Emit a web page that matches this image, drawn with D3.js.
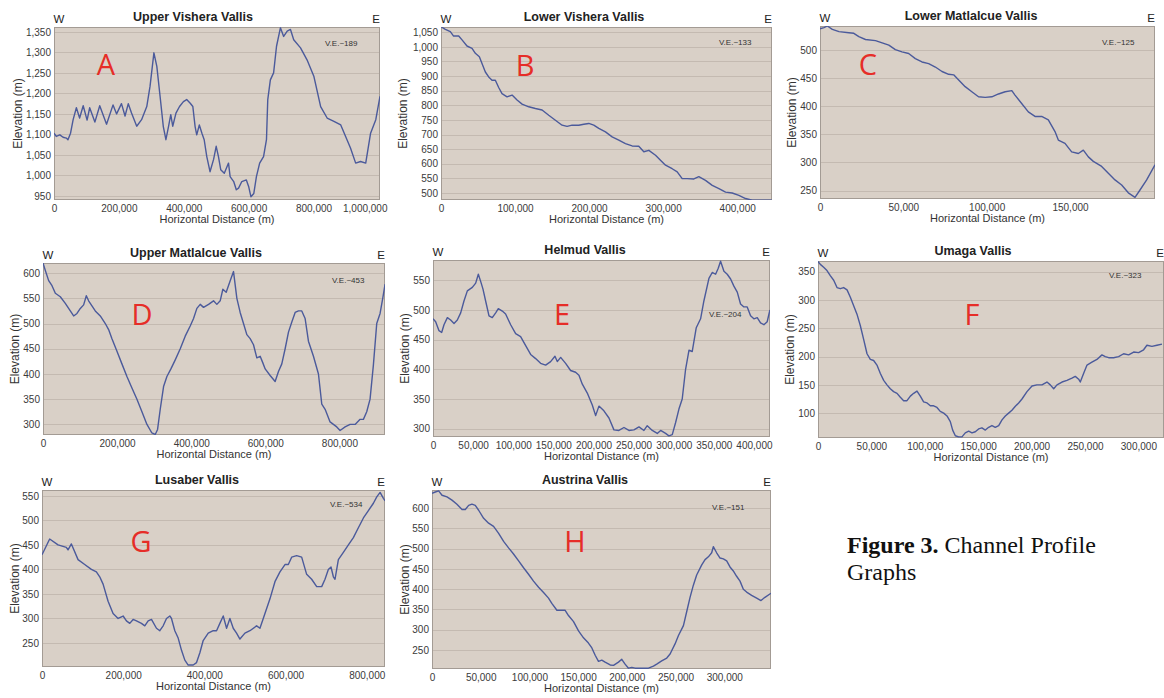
<!DOCTYPE html>
<html>
<head>
<meta charset="utf-8">
<script src="https://cdn.jsdelivr.net/npm/d3@7"></script>
<style>
    body { margin: 0; background: #fff; }
    svg { display: block; }
    .tick text { font-family: "Liberation Sans", Arial, sans-serif; font-size: 10px; fill: #3a3a3a; }
    .axis path { display: none; }
    .panel-title { font-family: "Liberation Sans", Arial, sans-serif; font-size: 12.5px; font-weight: bold; fill: #222; }
    .we { font-family: "Liberation Sans", Arial, sans-serif; font-size: 11.5px; fill: #222; }
    .x-title { font-family: "Liberation Sans", Arial, sans-serif; font-size: 11px; fill: #333; }
    .y-title { font-family: "Liberation Sans", Arial, sans-serif; font-size: 12px; fill: #333; }
    .ve { font-family: "Liberation Sans", Arial, sans-serif; font-size: 8px; fill: #333; }
    .letter { font-family: "Open Sans", sans-serif; font-size: 29px; fill: #e62d28; }
    .caption { font-family: "Liberation Serif", "Times New Roman", serif; font-size: 24px; fill: #111; }
</style>
</head>
<body>
<svg id="fig" width="1164" height="698"></svg>
<script>
// profile data: distance in km along the channel, elevation in m

const aDist = [0,7,18,28,38,43,51,59,69,79,90,102,110,126,141,162,182,193,208,219,229,239,255,270,286,296,308,317,327,337,345,353,360,366,376,387,399,409,420,428,435,440,448,456,463,471,481,492,500,507,514,525,538,543,554,562,569,579,593,600,607,616,624,634,646,655,659,667,677,686,698,708,719,729,739,760,780,801,822,842,863,884,899,914,930,945,961,976,992,1005];
const aElev = [1103,1095,1099,1093,1091,1087,1103,1136,1165,1140,1170,1135,1165,1130,1170,1125,1172,1150,1175,1145,1175,1152,1120,1136,1168,1217,1299,1266,1193,1119,1087,1119,1148,1120,1152,1168,1180,1185,1176,1168,1119,1099,1123,1103,1087,1046,1009,1039,1071,1046,1014,1005,1030,997,985,965,969,985,989,973,948,956,997,1030,1046,1087,1185,1233,1250,1315,1360,1339,1352,1356,1331,1311,1282,1242,1168,1140,1132,1123,1095,1067,1030,1034,1030,1103,1136,1193];

const bDist = [0,5.9,12.6,17,23.9,28.4,35.1,41.9,46.4,51.8,56.3,59.9,64.4,68.9,73.4,77.9,82.4,89.2,96,102.7,109.5,118.5,127.5,136.5,145.5,154.5,163.5,170.3,177,186,192.8,199.6,206.3,213.1,222.1,231.1,240.1,249.1,258.1,267.1,273.9,280.7,289.7,296.4,303.2,312.2,319,325.7,332.5,341.5,348.2,357.2,366.3,375.3,384.3,393.3,402.3,411.3,420.3,433.8,447.3];
const bElev = [1069,1060,1052,1037,1037,1024,1003,995,978,966,937,914,897,886,886,861,840,829,835,818,804,795,789,784,766,749,732,728,732,732,735,738,732,721,709,692,681,669,661,660,641,646,629,612,595,583,572,549,549,548,556,543,526,515,503,500,492,481,475,475,475];

const cDist = [0,2.4,4.4,7.4,11.4,17.3,20.3,23.3,27.3,33.3,37.3,41.3,45.2,49.2,53.2,57.2,61.2,65.2,69.2,73.2,77.2,80.2,83.2,87.1,91.1,95.1,99.1,103.1,107.1,111.1,115.1,117,121,125,129,133,137,141,143,147,151,155,158,161,164,169,173,177,181,185,189,192,196,201];
const cElev = [538,540,543,537,533,531,530,524,519,517,513,509,501,497,494,485,479,476,470,462,457,456,447,435,426,417,416,417,422,426,428,420,405,390,382,382,376,355,340,334,319,316,322,310,302,293,281,269,260,246,238,251,269,296];

const dDist = [0,6.3,15.3,24.3,33.3,46.7,60.2,73.7,82.7,91.7,100.7,109.7,116.9,123.1,132.1,141.1,154.6,168.1,177.1,186.1,199.6,213,226.5,240,253.5,267,280.5,293.9,302.9,309.2,316.4,325.4,334.4,345.2,356.9,370.4,383.8,397.3,406.3,415.3,424.3,433.3,446.8,460.2,469.2,478.2,485.4,494.4,505.2,514.2,523.2,532.1,541.1,550.1,559.1,568.1,577.1,586.1,593.3,599.6,613,626.5,635.5,644.5,653.5,662.5,671.5,680.5,689.5,698.4,707.4,716.4,729.9,743.4,752.4,761.4,774.8,783.8,792.8,801.8,815.3,828.8,842.3,855.8,864.7,873.7,882.7,891.7,900.7,909.7,916.9,923.2];
const dElev = [620,605,585,575,560,553,540,525,515,520,530,537,555,545,535,525,515,500,488,470,445,420,395,372,350,325,300,283,280,290,330,375,395,410,428,450,475,495,510,530,538,532,538,545,538,545,568,562,585,603,550,522,500,478,470,458,432,435,422,410,397,385,405,420,450,483,503,522,525,525,510,465,435,400,340,330,305,300,295,288,295,300,300,310,310,325,350,418,500,520,550,578];

const eDist = [0,3.3,7.5,10.8,13.7,17.9,22,26.2,30.3,34.5,38.6,42.8,49,53.2,56.5,59.4,62.3,65.6,69.8,73.9,78.1,81.4,86.4,90.5,96.8,103,109.2,115.5,121.7,127.9,134.1,140.4,146.6,152,154.9,159.1,165.3,171.5,177.7,181.9,186.1,192.3,198.5,202.7,206.8,213,219.3,225.5,231.7,238,244.2,250.4,256.7,262.9,267,273.3,279.5,283.7,289.9,294,298.2,302.3,306.5,310.6,314.8,319,323.1,328.1,333.5,337.6,343.9,348,352.2,355.5,358.4,362.6,366.7,370.9,375,379.2,383.3,387.5,391.6,395.8,399.9,404.1,408.2,412.4,416.5,419.9];
const eElev = [485,480,465,462,475,487,483,477,483,495,515,532,538,545,560,548,535,515,490,487,495,502,498,493,475,460,455,440,425,418,410,407,413,422,413,420,410,398,395,390,375,360,340,322,338,330,318,298,297,302,297,298,303,297,305,297,292,297,292,288,290,310,333,350,400,432,430,470,485,515,553,563,560,570,582,565,560,552,540,530,510,505,505,490,485,487,478,475,480,500];

const fDist = [0,2.2,5.3,8.4,11.5,14.7,17.8,20.9,24,27.2,30.3,33.4,36.5,39.6,42.8,45.9,49,52.1,55.2,58.4,61.5,64.6,67.7,70.8,74,77.1,80.2,83.3,86.5,89.6,92.7,95.8,98.9,102.1,105.2,108.3,111.4,114.5,117.7,120.8,123.9,126.1,128.6,131.7,134.8,137.9,141.1,144.2,147.3,150.4,153.5,156.7,159.8,162.9,166,169.2,172.3,175.4,178.5,181.6,184.8,187.9,191,195.7,200.4,205,209.7,214.4,217.5,220.7,223.8,228.5,233.1,237.8,240.9,244.1,245.6,248.7,251.9,256.5,261.2,265.9,269,272.2,276.8,281.5,286.2,290.9,295.6,300.2,304.9,308,312.7,317.4,322.1];
const fElev = [368,363,358,352,343,335,322,320,322,318,305,290,275,255,230,205,195,193,185,170,158,150,143,138,135,128,122,122,130,135,139,130,120,118,113,113,110,103,100,95,85,70,60,58,58,65,68,65,67,72,74,70,75,78,75,78,88,95,100,105,112,118,125,138,148,150,150,155,150,143,150,155,158,162,165,160,155,170,185,190,195,203,200,198,198,200,205,203,208,207,212,220,218,220,222];

const gDist = [0,18.9,39.5,60,64.1,72.4,88.8,105.2,121.7,134,142.2,150.5,162.8,175.1,187.5,199.8,208,216.2,224.5,232.7,245,253.2,261.5,269.7,282,290.2,298.5,306.7,314.9,319,327.2,335.5,343.7,351.9,360.1,372.5,380.7,388.9,397.1,409.5,421.8,430,438.2,446.5,454.7,462.9,471.1,479.3,487.6,499.9,512.2,528.7,536.9,545.1,561.6,573.9,586.2,598.6,606.8,615,627.3,639.7,652,664.3,676.7,689,697.2,705.4,712,717.8,721.9,730.1,742.4,754.8,767.1,779.4,791.8,804.1,816.4,824.7,832.9,841.1,845.2];
const gElev = [430,462,450,445,440,452,420,410,400,395,385,370,335,310,300,305,295,290,298,295,290,285,295,298,280,275,285,300,305,300,275,260,235,215,205,205,210,230,255,270,275,275,290,305,280,300,280,270,258,270,275,285,280,300,340,375,395,410,410,425,428,425,390,380,365,365,380,400,405,385,380,420,435,450,465,485,505,520,535,548,557,545,540];

const hDist = [0,3.4,6.8,10.3,15.4,20.5,25.6,30.8,34.2,37.6,41,44.4,47.9,53,58.1,63.2,68.4,73.5,78.6,83.7,88.9,94,99.1,104.2,109.4,114.5,119.6,123,128.2,133.3,136.7,140.1,145.3,150.4,155.5,160.6,164.1,167.5,170.9,174.3,177.7,182.9,186.3,191.4,194.8,198.2,201.7,205.1,208.5,215.3,222.2,227.3,230.7,235.8,241,244.4,249.5,252.9,258.1,261.5,264.9,268.3,271.7,276.9,280.3,283.7,287.1,288.8,292.2,295.7,299.1,302.5,305.9,309.3,312.7,316.2,319.6,323,328.1,333.3,337.7,341.8,348];
const hElev = [637,640,643,632,628,620,610,597,597,607,610,607,595,575,563,555,538,518,502,487,470,453,437,420,405,392,378,365,348,348,348,335,320,297,280,267,255,237,222,225,220,213,212,220,227,215,205,207,205,205,205,210,215,223,230,240,265,285,310,345,380,410,435,460,473,480,490,505,490,477,475,470,455,445,432,420,400,393,385,378,372,380,390];

const titles = ['Upper Vishera Vallis', 'Lower Vishera Vallis', 'Lower Matlalcue Vallis', 'Upper Matlalcue Vallis',
    'Helmud Vallis', 'Umaga Vallis', 'Lusaber Vallis', 'Austrina Vallis'];
const letters = ['A', 'B', 'C', 'D', 'E', 'F', 'G', 'H'];
const veLabels = ['V.E.~189', 'V.E.~133', 'V.E.~125', 'V.E.~453', 'V.E.~204', 'V.E.~323', 'V.E.~534', 'V.E.~151'];

// axis extents (km / m) and tick spacing
const xMax = [1005, 447, 201, 923, 420, 324, 845, 348];
const xTickStep = [200, 100, 50, 200, 50, 50, 200, 50];
const xTickLast = [1000, 400, 150, 800, 400, 300, 800, 300];
const yDomains = [[940, 1362], [476, 1068], [235, 543], [279, 620], [286, 584], [56, 369], [201, 562], [203, 645]];
const yTickRanges = [[950, 1350], [500, 1050], [250, 500], [300, 600], [300, 550], [100, 350], [250, 550], [250, 600]];

const series = [[aDist, aElev], [bDist, bElev], [cDist, cElev], [dDist, dElev],
    [eDist, eElev], [fDist, fElev], [gDist, gElev], [hDist, hElev]];

// panel placement on the page
const layout = [
    { l: 54, r: 380, t: 27, b: 200, tx: 193, yt: 18, ve: [325, 46], let: [106, 75] },
    { l: 441, r: 772, t: 27, b: 200, tx: 584, yt: 403, ve: [719, 45], let: [525, 76] },
    { l: 820, r: 1155, t: 26, b: 199, tx: 971, yt: 792, ve: [1102, 45], let: [868, 75] },
    { l: 43, r: 385, t: 263, b: 435, tx: 196, yt: 15, ve: [332, 283], let: [142, 325] },
    { l: 433, r: 770, t: 260, b: 437, tx: 585, yt: 405, ve: [709, 317], let: [562, 325] },
    { l: 818, r: 1164, t: 261, b: 438, tx: 973, yt: 790, ve: [1109, 278], let: [972, 325] },
    { l: 42, r: 385, t: 490, b: 667, tx: 197, yt: 15, ve: [330, 507], let: [141, 552] },
    { l: 432, r: 771, t: 490, b: 669, tx: 585, yt: 405, ve: [712, 510], let: [575, 552] },
];

const svg = d3.select('#fig');
const fmt = d3.format(',');

layout.forEach((p, i) => {
    const [dist, elev] = series[i];
    const pts = dist.map((d, k) => [d * 1000, elev[k]]);

    const x = d3.scaleLinear().domain([0, xMax[i] * 1000]).range([p.l, p.r]);
    const y = d3.scaleLinear().domain(yDomains[i]).range([p.b, p.t]);
    const yTicks = d3.range(yTickRanges[i][0], yTickRanges[i][1] + 1, 50);
    const xTicks = d3.range(0, xTickLast[i] + 0.001, xTickStep[i]).map(v => v * 1000);

    const g = svg.append('g');

    g.append('clipPath').attr('id', 'clip' + i)
        .append('rect')
        .attr('x', p.l).attr('y', p.t)
        .attr('width', p.r - p.l).attr('height', p.b - p.t);

    g.append('rect')
        .attr('x', p.l).attr('y', p.t)
        .attr('width', p.r - p.l).attr('height', p.b - p.t)
        .attr('fill', '#d9d0c7');

    // faint horizontal grid
    g.selectAll('.grid')
        .data(yTicks)
        .enter()
        .append('line')
        .attr('x1', p.l).attr('x2', p.r)
        .attr('y1', d => Math.round(y(d)) + 0.5)
        .attr('y2', d => Math.round(y(d)) + 0.5)
        .attr('stroke', '#c4bab1')
        .attr('stroke-width', 1);

    g.append('rect')
        .attr('x', p.l + 0.5).attr('y', p.t + 0.5)
        .attr('width', p.r - p.l - 1).attr('height', p.b - p.t - 1)
        .attr('fill', 'none')
        .attr('stroke', '#a39b94');

    g.append('path')
        .datum(pts)
        .attr('clip-path', `url(#clip${i})`)
        .attr('fill', 'none')
        .attr('stroke', '#4b5a9b')
        .attr('stroke-width', 1.4)
        .attr('stroke-linejoin', 'round')
        .attr('d', d3.line().x(d => x(d[0])).y(d => y(d[1])));

    g.append('g')
        .attr('class', 'axis')
        .attr('transform', `translate(${p.l},0)`)
        .call(d3.axisLeft(y).tickValues(yTicks).tickSize(0).tickPadding(3).tickFormat(fmt));

    const xa = g.append('g')
        .attr('class', 'axis')
        .attr('transform', `translate(0,${p.b})`)
        .call(d3.axisBottom(x).tickValues(xTicks).tickSize(0).tickPadding(5).tickFormat(fmt));

    // keep the last x label inside the page like the original
    xa.selectAll('.tick text').each(function (d) {
        const w = this.getComputedTextLength();
        if (x(d) + w / 2 > p.r + 6) {
            d3.select(this).attr('text-anchor', 'end').attr('x', Math.min(p.r + 7, 1163) - x(d));
        }
    });

    g.append('text')
        .attr('class', 'panel-title')
        .attr('x', p.tx).attr('y', p.t - 6)
        .attr('text-anchor', 'middle')
        .text(titles[i]);

    g.append('text').attr('class', 'we')
        .attr('x', p.l + 5).attr('y', p.t - 4)
        .attr('text-anchor', 'middle').text('W');
    g.append('text').attr('class', 'we')
        .attr('x', p.r - 4).attr('y', p.t - 4)
        .attr('text-anchor', 'middle').text('E');

    g.append('text')
        .attr('class', 'x-title')
        .attr('x', (p.l + p.r) / 2).attr('y', p.b + 23)
        .attr('text-anchor', 'middle')
        .text('Horizontal Distance (m)');

    g.append('text')
        .attr('class', 'y-title')
        .attr('transform', `translate(${p.yt + 4},${(p.t + p.b) / 2}) rotate(-90)`)
        .attr('text-anchor', 'middle')
        .text('Elevation (m)');

    g.append('text')
        .attr('class', 've')
        .attr('x', p.ve[0]).attr('y', p.ve[1])
        .text(veLabels[i]);

    g.append('text')
        .attr('class', 'letter')
        .attr('x', p.let[0]).attr('y', p.let[1])
        .attr('text-anchor', 'middle')
        .text(letters[i]);
});

const cap = svg.append('text').attr('class', 'caption').attr('x', 847).attr('y', 553);
cap.append('tspan').attr('font-weight', 'bold').text('Figure 3.');
cap.append('tspan').text(' Channel Profile');
svg.append('text').attr('class', 'caption').attr('x', 847).attr('y', 580).text('Graphs');
</script>
</body>
</html>
